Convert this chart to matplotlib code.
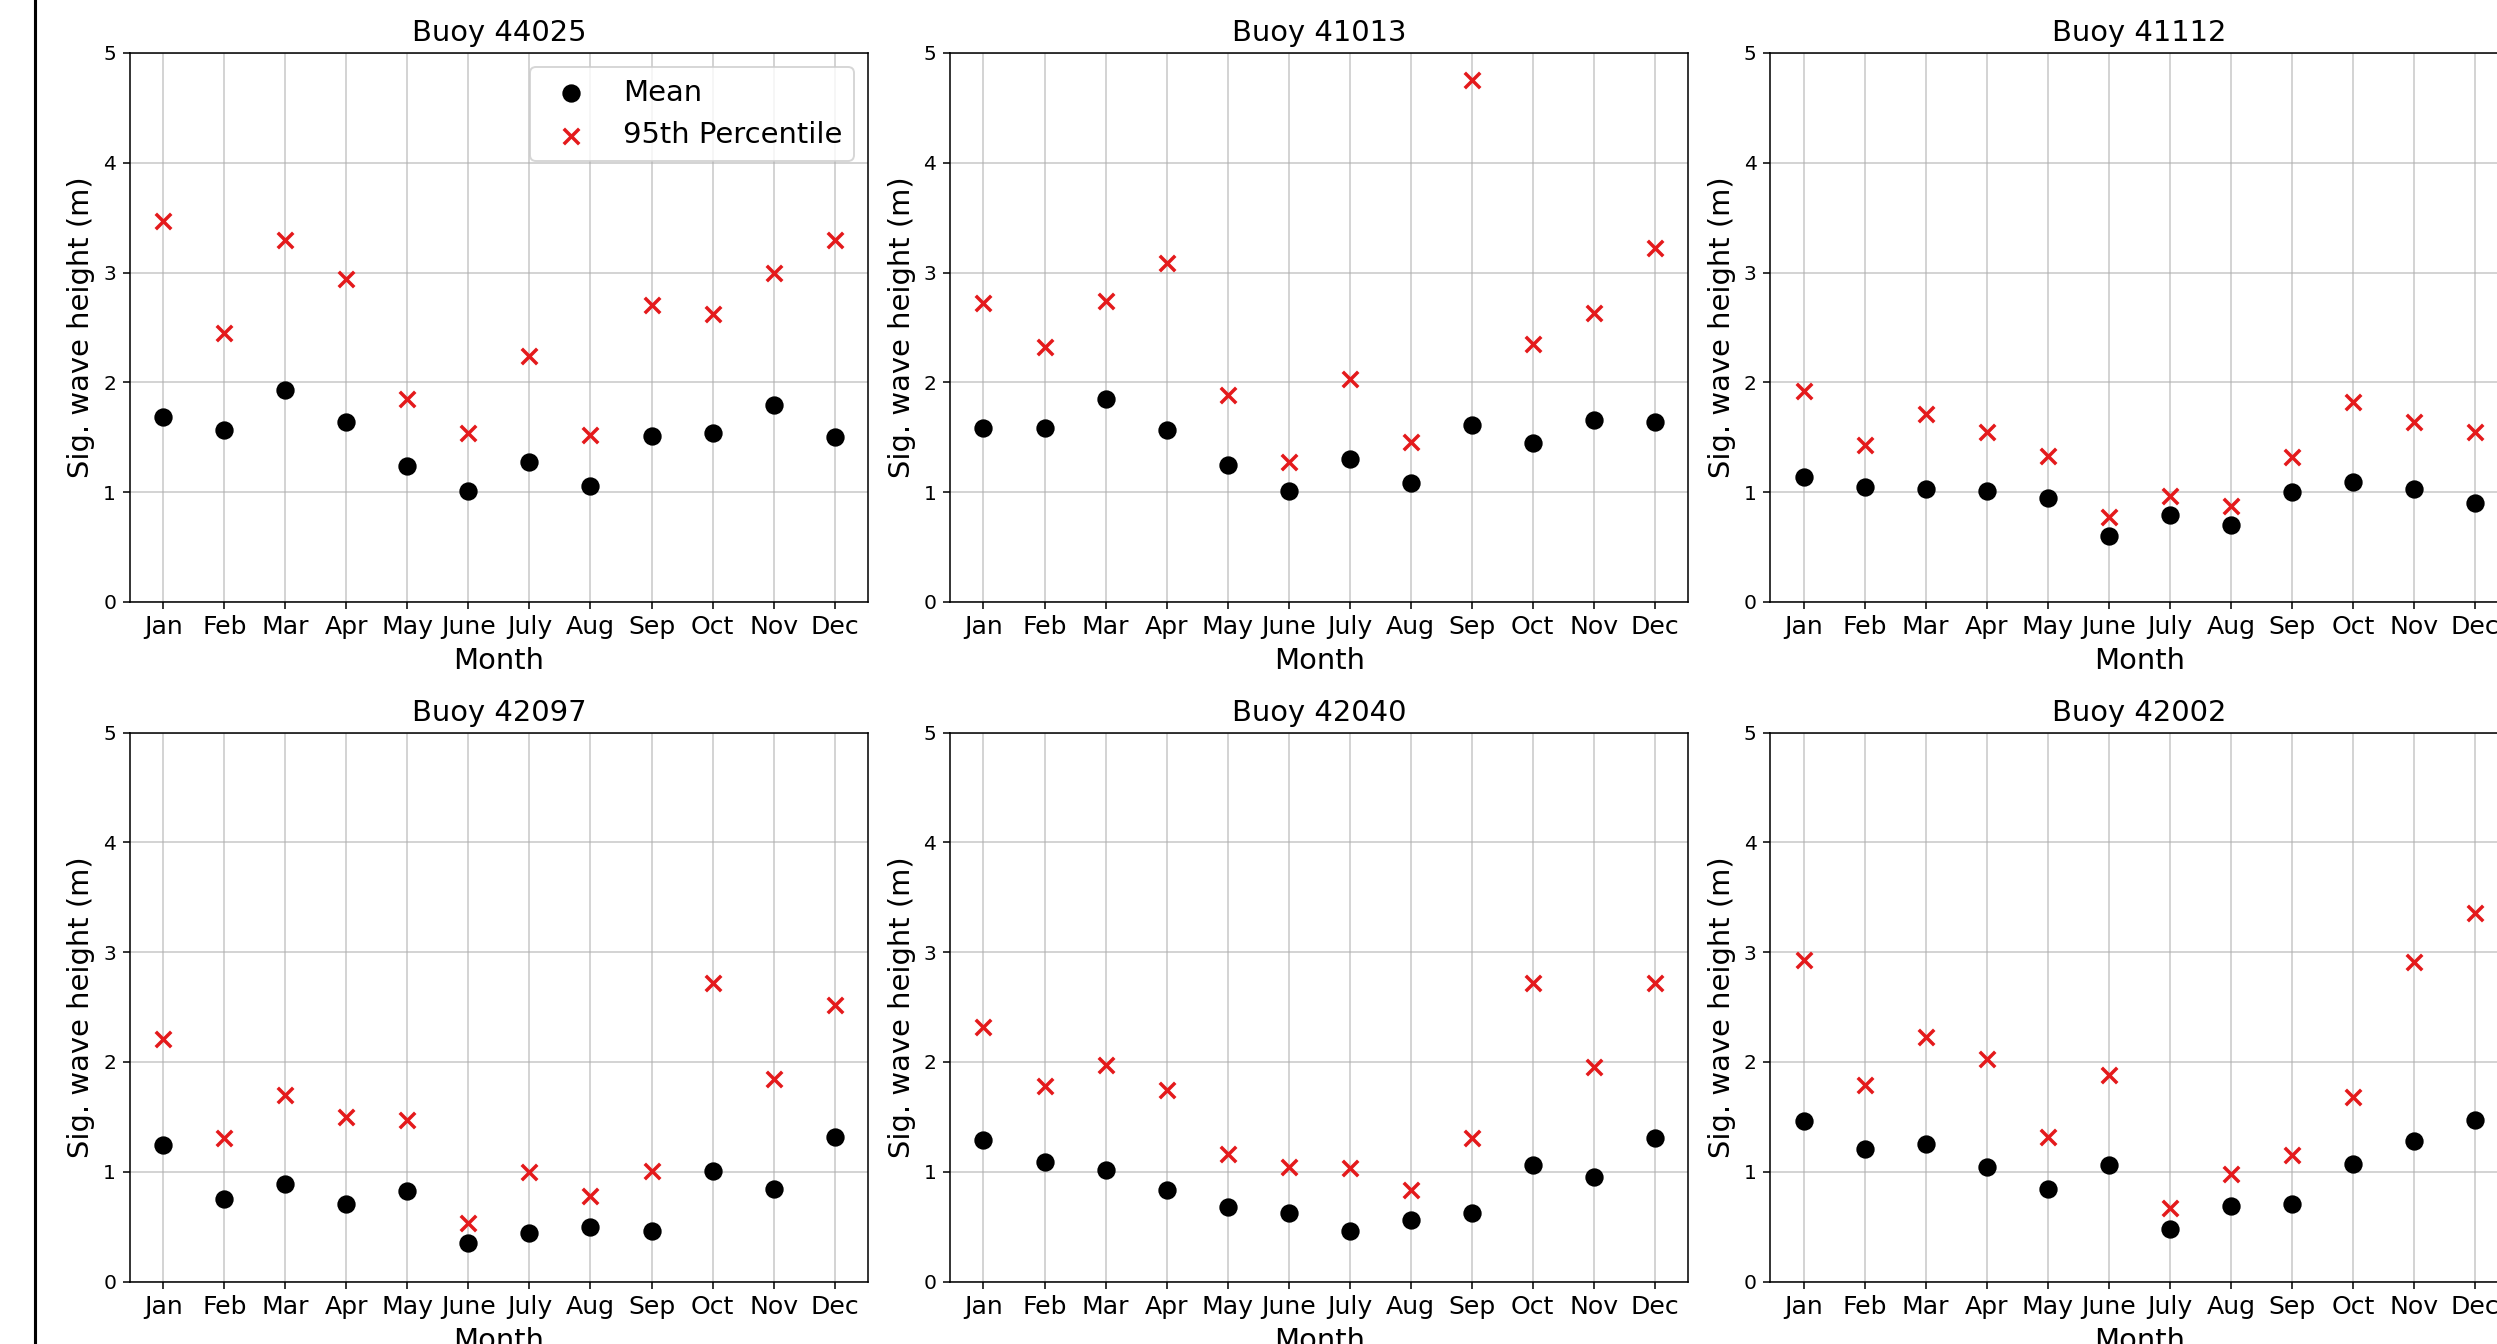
import matplotlib
matplotlib.use("Agg")
import matplotlib.pyplot as plt
from matplotlib.lines import Line2D

months = ['Jan', 'Feb', 'Mar', 'Apr', 'May', 'June', 'July', 'Aug', 'Sep', 'Oct', 'Nov', 'Dec']
buoys = ['44025', '41013', '41112', '42097', '42040', '42002']

mean_44025 = [1.68, 1.57, 1.93, 1.64, 1.24, 1.01, 1.27, 1.06, 1.51, 1.54, 1.79, 1.50]
p95_44025 = [3.47, 2.45, 3.30, 2.94, 1.85, 1.54, 2.24, 1.52, 2.70, 2.62, 3.00, 3.30]

mean_41013 = [1.58, 1.58, 1.85, 1.57, 1.25, 1.01, 1.30, 1.08, 1.61, 1.45, 1.66, 1.64]
p95_41013 = [2.72, 2.32, 2.74, 3.09, 1.88, 1.27, 2.03, 1.46, 4.75, 2.35, 2.63, 3.22]

mean_41112 = [1.14, 1.05, 1.03, 1.01, 0.95, 0.60, 0.79, 0.70, 1.00, 1.09, 1.03, 0.90]
p95_41112 = [1.92, 1.43, 1.71, 1.55, 1.33, 0.77, 0.96, 0.87, 1.32, 1.82, 1.64, 1.55]

mean_42097 = [1.24, 0.75, 0.89, 0.71, 0.82, 0.35, 0.44, 0.50, 0.46, 1.01, 0.84, 1.32]
p95_42097 = [2.21, 1.31, 1.70, 1.50, 1.47, 0.53, 1.00, 0.78, 1.01, 2.72, 1.84, 2.52]

mean_42040 = [1.29, 1.09, 1.02, 0.83, 0.68, 0.62, 0.46, 0.56, 0.62, 1.06, 0.95, 1.31]
p95_42040 = [2.32, 1.78, 1.97, 1.74, 1.16, 1.04, 1.03, 0.83, 1.31, 2.72, 1.95, 2.72]

mean_42002 = [1.46, 1.21, 1.25, 1.04, 0.84, 1.06, 0.48, 0.69, 0.71, 1.07, 1.28, 1.47]
p95_42002 = [2.93, 1.79, 2.23, 2.03, 1.32, 1.88, 0.67, 0.98, 1.15, 1.68, 2.91, 3.36]

means = [mean_44025, mean_41013, mean_41112, mean_42097, mean_42040, mean_42002]
p95s = [p95_44025, p95_41013, p95_41112, p95_42097, p95_42040, p95_42002]

DPI = 139
W, H = 2497, 1344
fig = plt.figure(figsize=(W / DPI, H / DPI), dpi=DPI)
fig.patch.set_facecolor('white')

lefts = [129.7, 949.9, 1770.0]
tops = [52.9, 732.5]
aw, ah = 738.5, 549.0

x = list(range(len(months)))
for i, b in enumerate(buoys):
    r, c = divmod(i, 3)
    l = lefts[c] / W
    bt = (H - tops[r] - ah) / H
    ax = fig.add_axes([l, bt, aw / W, ah / H])
    ax.scatter(x, means[i], color='black', marker='o', s=72, label='Mean', zorder=3)
    ax.scatter(x, p95s[i], color='#e41a1c', marker='x', s=64, linewidths=1.8,
               label='95th Percentile', zorder=3)
    ax.set_ylim(0, 5)
    ax.set_xticks(x)
    ax.set_xticklabels(months, fontsize=13)
    ax.tick_params(axis='y', labelsize=10.5)
    ax.set_xlabel('Month', fontsize=15)
    ax.set_ylabel('Sig. wave height (m)', fontsize=15)
    ax.set_title('Buoy ' + b, fontsize=15)
    ax.grid(True, color='#b0b0b0', alpha=0.7, linewidth=0.8)
    ax.set_axisbelow(True)
    if i == 0:
        ax.legend(loc='upper right', fontsize=15)

fig.add_artist(Line2D([34.5 / W, 34.5 / W], [0, 1], transform=fig.transFigure,
                      color='black', linewidth=1.6))

fig.savefig('out.png', dpi=DPI)
